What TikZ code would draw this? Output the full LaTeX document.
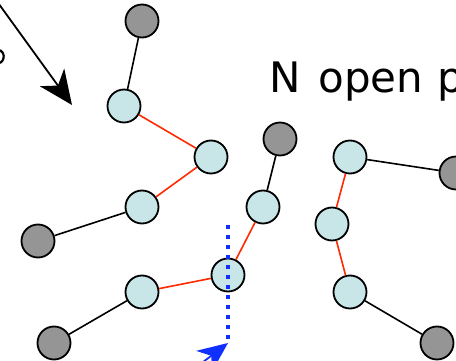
\documentclass[tikz,border=0pt]{standalone}
\usepackage{fontspec}
\setmainfont{DejaVu Sans}
\usetikzlibrary{arrows.meta}
\definecolor{monomer}{HTML}{C8E6E8}
\definecolor{endcap}{HTML}{959595}
\definecolor{bondred}{HTML}{FF2A00}
\definecolor{probeblue}{HTML}{1030FF}
\begin{document}
\begin{tikzpicture}[x=1pt,y=-1pt,
  bead/.style={circle,draw=black,line width=1.8pt,minimum size=33pt,inner sep=0pt},
  inner/.style={bead,fill=monomer},
  endbead/.style={bead,fill=endcap},
  bond/.style={line width=1.6pt,black},
  redbond/.style={line width=1.6pt,bondred},
  pointer/.style={line width=1.8pt,-{Stealth[length=34pt,width=30pt,inset=10pt]}}]
\useasboundingbox (0,0) rectangle (456,361);
\clip (0,0) rectangle (456,361);

% label, running off the right edge
\node[anchor=base west,inner sep=0pt,font=\fontsize{42}{42}\selectfont] (lbl) at (269,93)
  {N\hspace{18pt}open\hspace{14pt}p};

% fragment of a letter at the left edge
\draw[line width=2.2pt] (0,63) arc[start angle=60,end angle=-60,radius=7.5];

% chain 1
\node[endbead] (a1) at (142,21) {};
\node[inner] (a2) at (124,106) {};
\node[inner] (a3) at (211,157) {};
\node[inner] (a4) at (142,207) {};
\node[endbead] (a5) at (38,241) {};
% chain 2
\node[endbead] (b1) at (280,139) {};
\node[inner] (b2) at (263,207) {};
\node[inner] (b3) at (228,275) {};
\node[inner] (b4) at (142,292) {};
\node[endbead] (b5) at (54,343) {};
% chain 3
\node[endbead] (c1) at (456,173) {};
\node[inner] (c2) at (350,157) {};
\node[inner] (c3) at (332,224) {};
\node[inner] (c4) at (350,292) {};
\node[endbead] (c5) at (437,343) {};

% bonds
\draw[bond] (a1) -- (a2);
\draw[redbond] (a2) -- (a3);
\draw[redbond] (a3) -- (a4);
\draw[bond] (a4) -- (a5);
\draw[bond] (b1) -- (b2);
\draw[redbond] (b2) -- (b3);
\draw[redbond] (b3) -- (b4);
\draw[bond] (b4) -- (b5);
\draw[bond] (c1) -- (c2);
\draw[redbond] (c2) -- (c3);
\draw[redbond] (c3) -- (c4);
\draw[bond] (c4) -- (c5);

% pointer from the upper left
\coordinate (ptail) at (-4,0);
\coordinate (phead) at (72,105);
\draw[pointer] (ptail) -- (phead);

% dotted probe line and its arrow
\coordinate (dtop) at (228,225);
\coordinate (dbot) at (228,341);
\draw[probeblue,line width=4pt,dash pattern=on 4pt off 6pt] (dtop) -- (dbot);
\coordinate (atail) at (190,372);
\coordinate (ahead) at (228,343);
\draw[probeblue,line width=1.8pt,-{Stealth[length=30pt,width=26pt,inset=9pt]}] (atail) -- (ahead);
\end{tikzpicture}
\end{document}
